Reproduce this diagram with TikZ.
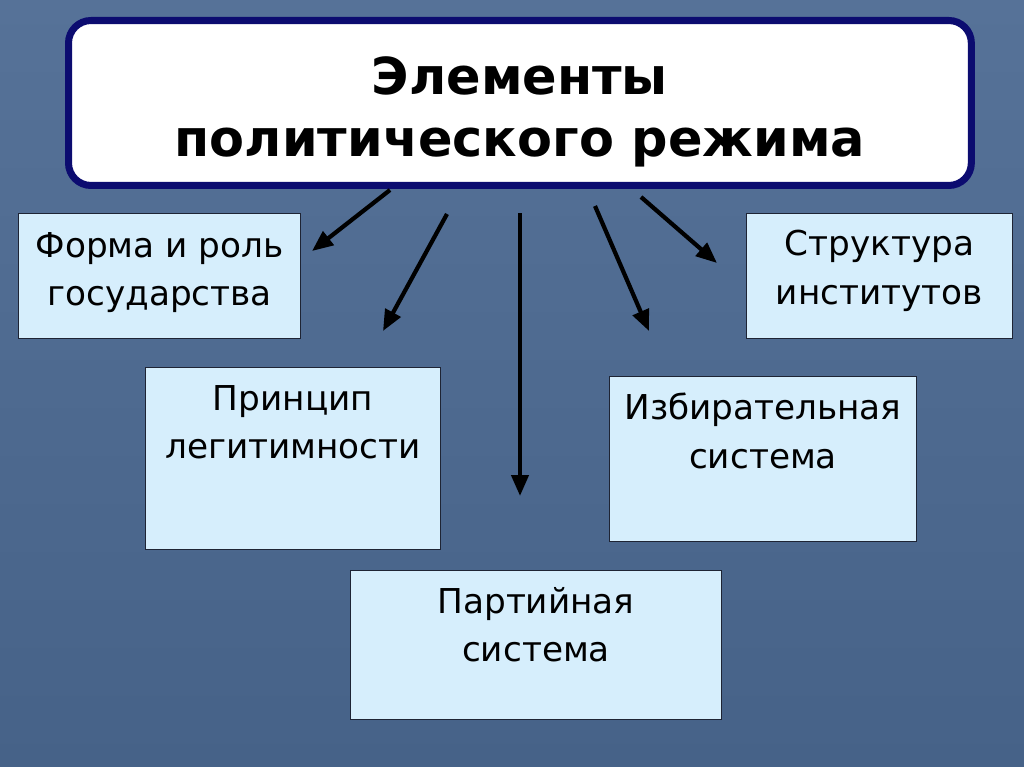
\documentclass[tikz,border=0pt]{standalone}
\usepackage{fontspec}
\setmainfont{DejaVu Sans}
\usepackage{tikz}
\usetikzlibrary{arrows.meta, positioning, calc, backgrounds}
\definecolor{slatebg}{RGB}{76,106,146}
\definecolor{slatetop}{RGB}{86,114,152}
\definecolor{slatebot}{RGB}{70,98,136}
\definecolor{cellblue}{RGB}{214,238,252}
\definecolor{navyedge}{RGB}{12,12,112}
\definecolor{celledge}{RGB}{30,36,52}

\begin{document}
\begin{tikzpicture}[
  x=0.02cm, y=-0.02cm,
  titlebox/.style={rectangle, rounded corners=0.45cm, draw=navyedge, line width=4pt, fill=white, minimum width=18.06cm, minimum height=3.3cm, anchor=north west},
  cell/.style={rectangle, draw=celledge, line width=0.6pt, fill=cellblue, anchor=north west},
  celltext/.style={align=center, anchor=north, inner sep=0pt, font=\fontsize{19.5}{27.5}\selectfont},
  arr/.style={-{Triangle[length=0.42cm, width=0.34cm]}, line width=2.4pt, black}
]
  % Background
  \shade[top color=slatetop, bottom color=slatebot] (0,0) rectangle (1024,767);
  \useasboundingbox (0,0) rectangle (1024,767);
  % Root
  \node[titlebox] (root) at (65,17) {};
  \node[align=center, inner sep=0pt, font=\bfseries\fontsize{29}{35.5}\selectfont] (roottext) at ($(root.center)+(0,9)$) {Элементы\\политического режима};
  % Level 1 boxes
  \node[cell, minimum width=5.64cm, minimum height=2.5cm] (forma) at (18,213) {};
  \node[celltext] (formatext) at ($(forma.north)+(0,19)$) {Форма и роль\\государства};
  \node[cell, minimum width=5.32cm, minimum height=2.5cm] (struct) at (746,213) {};
  \node[celltext] (structtext) at ($(struct.north)+(0,17)$) {Структура\\институтов};
  \node[cell, minimum width=5.9cm, minimum height=3.64cm] (princ) at (145,367) {};
  \node[celltext] (princtext) at ($(princ.north)+(0,18)$) {Принцип\\легитимности};
  \node[cell, minimum width=6.14cm, minimum height=3.3cm] (izbir) at (609,376) {};
  \node[celltext] (izbirtext) at ($(izbir.north)+(0,17)$) {Избирательная\\система};
  \node[cell, minimum width=7.42cm, minimum height=2.98cm] (party) at (350,570) {};
  \node[celltext] (partytext) at ($(party.north)+(0,17)$) {Партийная\\система};
  % Arrow ends
  \coordinate (a1s) at (390,190); \coordinate (a1e) at (312,251);
  \coordinate (a2s) at (447,214); \coordinate (a2e) at (383,331);
  \coordinate (a3s) at (520,213); \coordinate (a3e) at (520,496);
  \coordinate (a4s) at (595,206); \coordinate (a4e) at (649,331);
  \coordinate (a5s) at (641,197); \coordinate (a5e) at (717,263);
  % Arrows
  \draw[arr] (a1s) -- (a1e);
  \draw[arr] (a2s) -- (a2e);
  \draw[arr] (a3s) -- (a3e);
  \draw[arr] (a4s) -- (a4e);
  \draw[arr] (a5s) -- (a5e);
\end{tikzpicture}
\end{document}
